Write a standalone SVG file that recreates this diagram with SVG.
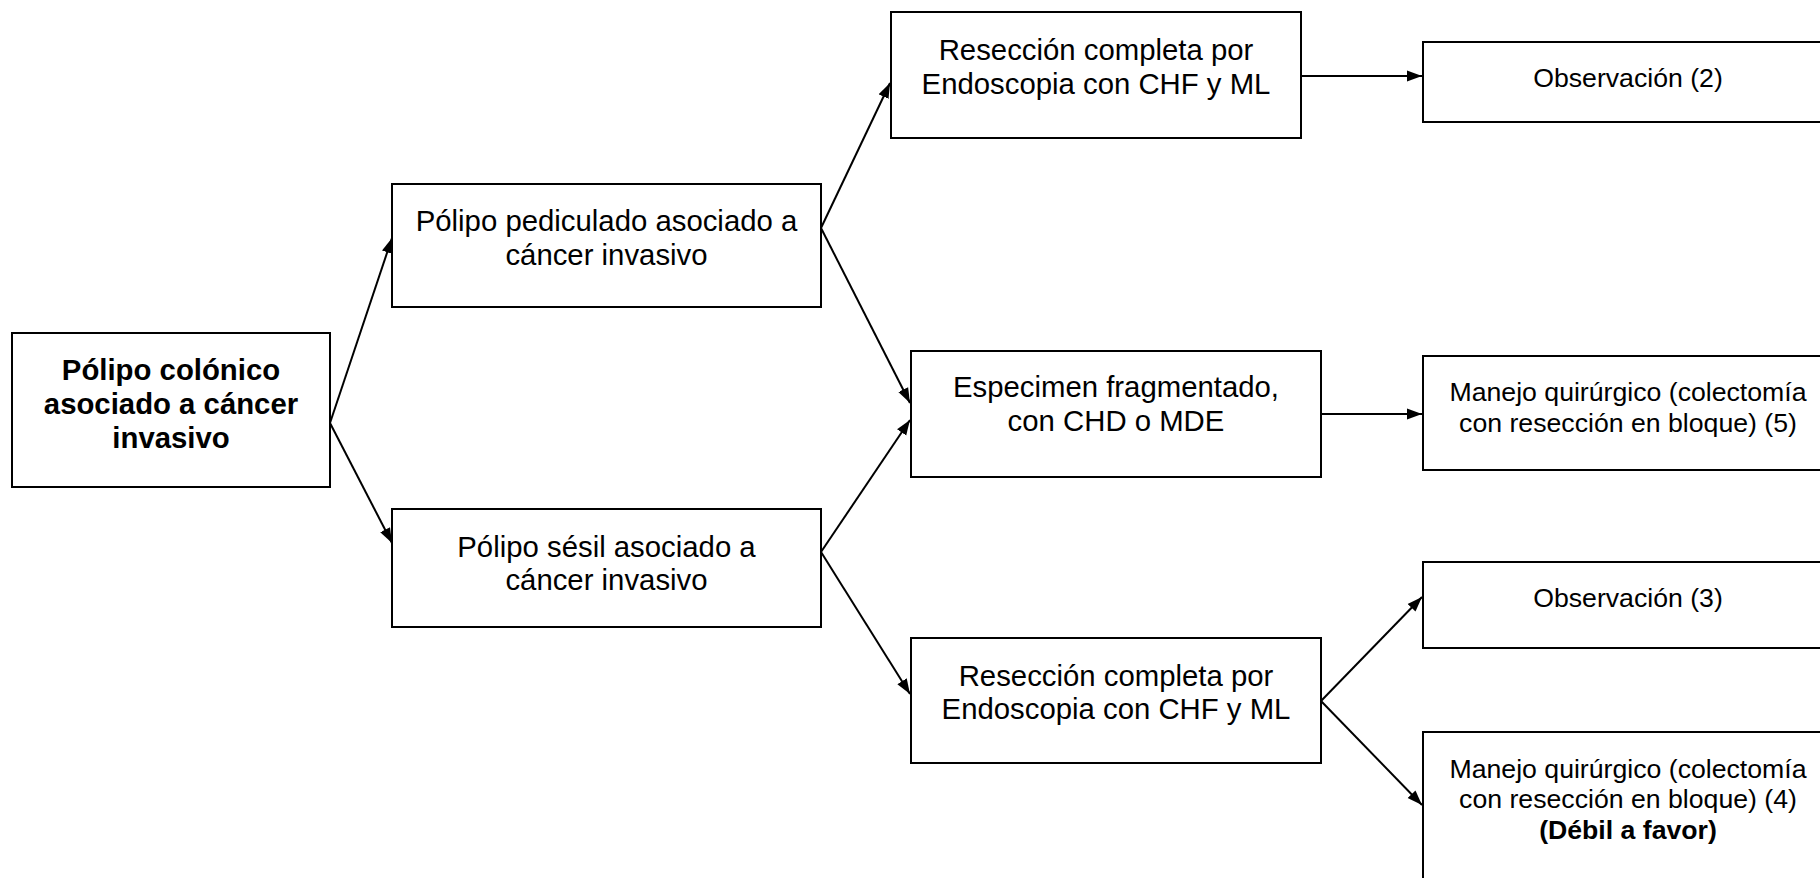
<svg xmlns="http://www.w3.org/2000/svg" width="1820" height="878" viewBox="0 0 1820 878">
<style>
.box{fill:#fff;stroke:#000;stroke-width:2}
.t{font-family:"Liberation Sans",Arial,sans-serif;font-size:29.33px;fill:#000;text-anchor:middle}
.s{font-family:"Liberation Sans",Arial,sans-serif;font-size:26.67px;fill:#000;text-anchor:middle}
.b{font-weight:bold}
.c{stroke:#000;stroke-width:2;fill:none;marker-end:url(#ah)}
</style>
<defs>
<marker id="ah" markerUnits="userSpaceOnUse" markerWidth="16" markerHeight="12" refX="15" refY="6" orient="auto">
<path d="M0,0.5 L15,6 L0,11.5 z" fill="#000"/>
</marker>
</defs>
<rect width="1820" height="878" fill="#fff"/>
<g id="connectors">
<line class="c" x1="330" y1="423" x2="392" y2="238"/>
<line class="c" x1="330" y1="423" x2="392" y2="543"/>
<line class="c" x1="821" y1="228" x2="890" y2="83"/>
<line class="c" x1="821" y1="228" x2="910" y2="403"/>
<line class="c" x1="821" y1="552" x2="910" y2="420"/>
<line class="c" x1="821" y1="552" x2="910" y2="694"/>
<line class="c" x1="1301" y1="76" x2="1422" y2="76"/>
<line class="c" x1="1321" y1="414" x2="1422" y2="414"/>
<line class="c" x1="1321" y1="701" x2="1422" y2="597"/>
<line class="c" x1="1321" y1="701" x2="1422" y2="805"/>
</g>
<g id="root">
<rect class="box" x="12" y="333" width="318" height="154"/>
<text class="t b" x="171" y="380">Pólipo colónico</text>
<text class="t b" x="171" y="414">asociado a cáncer</text>
<text class="t b" x="171" y="448">invasivo</text>
</g>
<g id="pediculado">
<rect class="box" x="392" y="184" width="429" height="123"/>
<text class="t" x="606.5" y="231">Pólipo pediculado asociado a</text>
<text class="t" x="606.5" y="264.5">cáncer invasivo</text>
</g>
<g id="sesil">
<rect class="box" x="392" y="509" width="429" height="118"/>
<text class="t" x="606.5" y="557">Pólipo sésil asociado a</text>
<text class="t" x="606.5" y="590">cáncer invasivo</text>
</g>
<g id="reseccion1">
<rect class="box" x="891" y="12" width="410" height="126"/>
<text class="t" x="1096" y="60">Resección completa por</text>
<text class="t" x="1096" y="94">Endoscopia con CHF y ML</text>
</g>
<g id="especimen">
<rect class="box" x="911" y="351" width="410" height="126"/>
<text class="t" x="1116" y="397">Especimen fragmentado,</text>
<text class="t" x="1116" y="431">con CHD o MDE</text>
</g>
<g id="reseccion2">
<rect class="box" x="911" y="638" width="410" height="125"/>
<text class="t" x="1116" y="685.5">Resección completa por</text>
<text class="t" x="1116" y="719">Endoscopia con CHF y ML</text>
</g>
<g id="observacion2">
<rect class="box" x="1423" y="42" width="410" height="80"/>
<text class="s" x="1628" y="87">Observación (2)</text>
</g>
<g id="manejo5">
<rect class="box" x="1423" y="356" width="410" height="114"/>
<text class="s" x="1628" y="400.5">Manejo quirúrgico (colectomía</text>
<text class="s" x="1628" y="431.5">con resección en bloque) (5)</text>
</g>
<g id="observacion3">
<rect class="box" x="1423" y="562" width="410" height="86"/>
<text class="s" x="1628" y="607">Observación (3)</text>
</g>
<g id="manejo4">
<rect class="box" x="1423" y="732" width="410" height="160"/>
<text class="s" x="1628" y="777.5">Manejo quirúrgico (colectomía</text>
<text class="s" x="1628" y="808">con resección en bloque) (4)</text>
<text class="s b" x="1628" y="838.5">(Débil a favor)</text>
</g>
</svg>
